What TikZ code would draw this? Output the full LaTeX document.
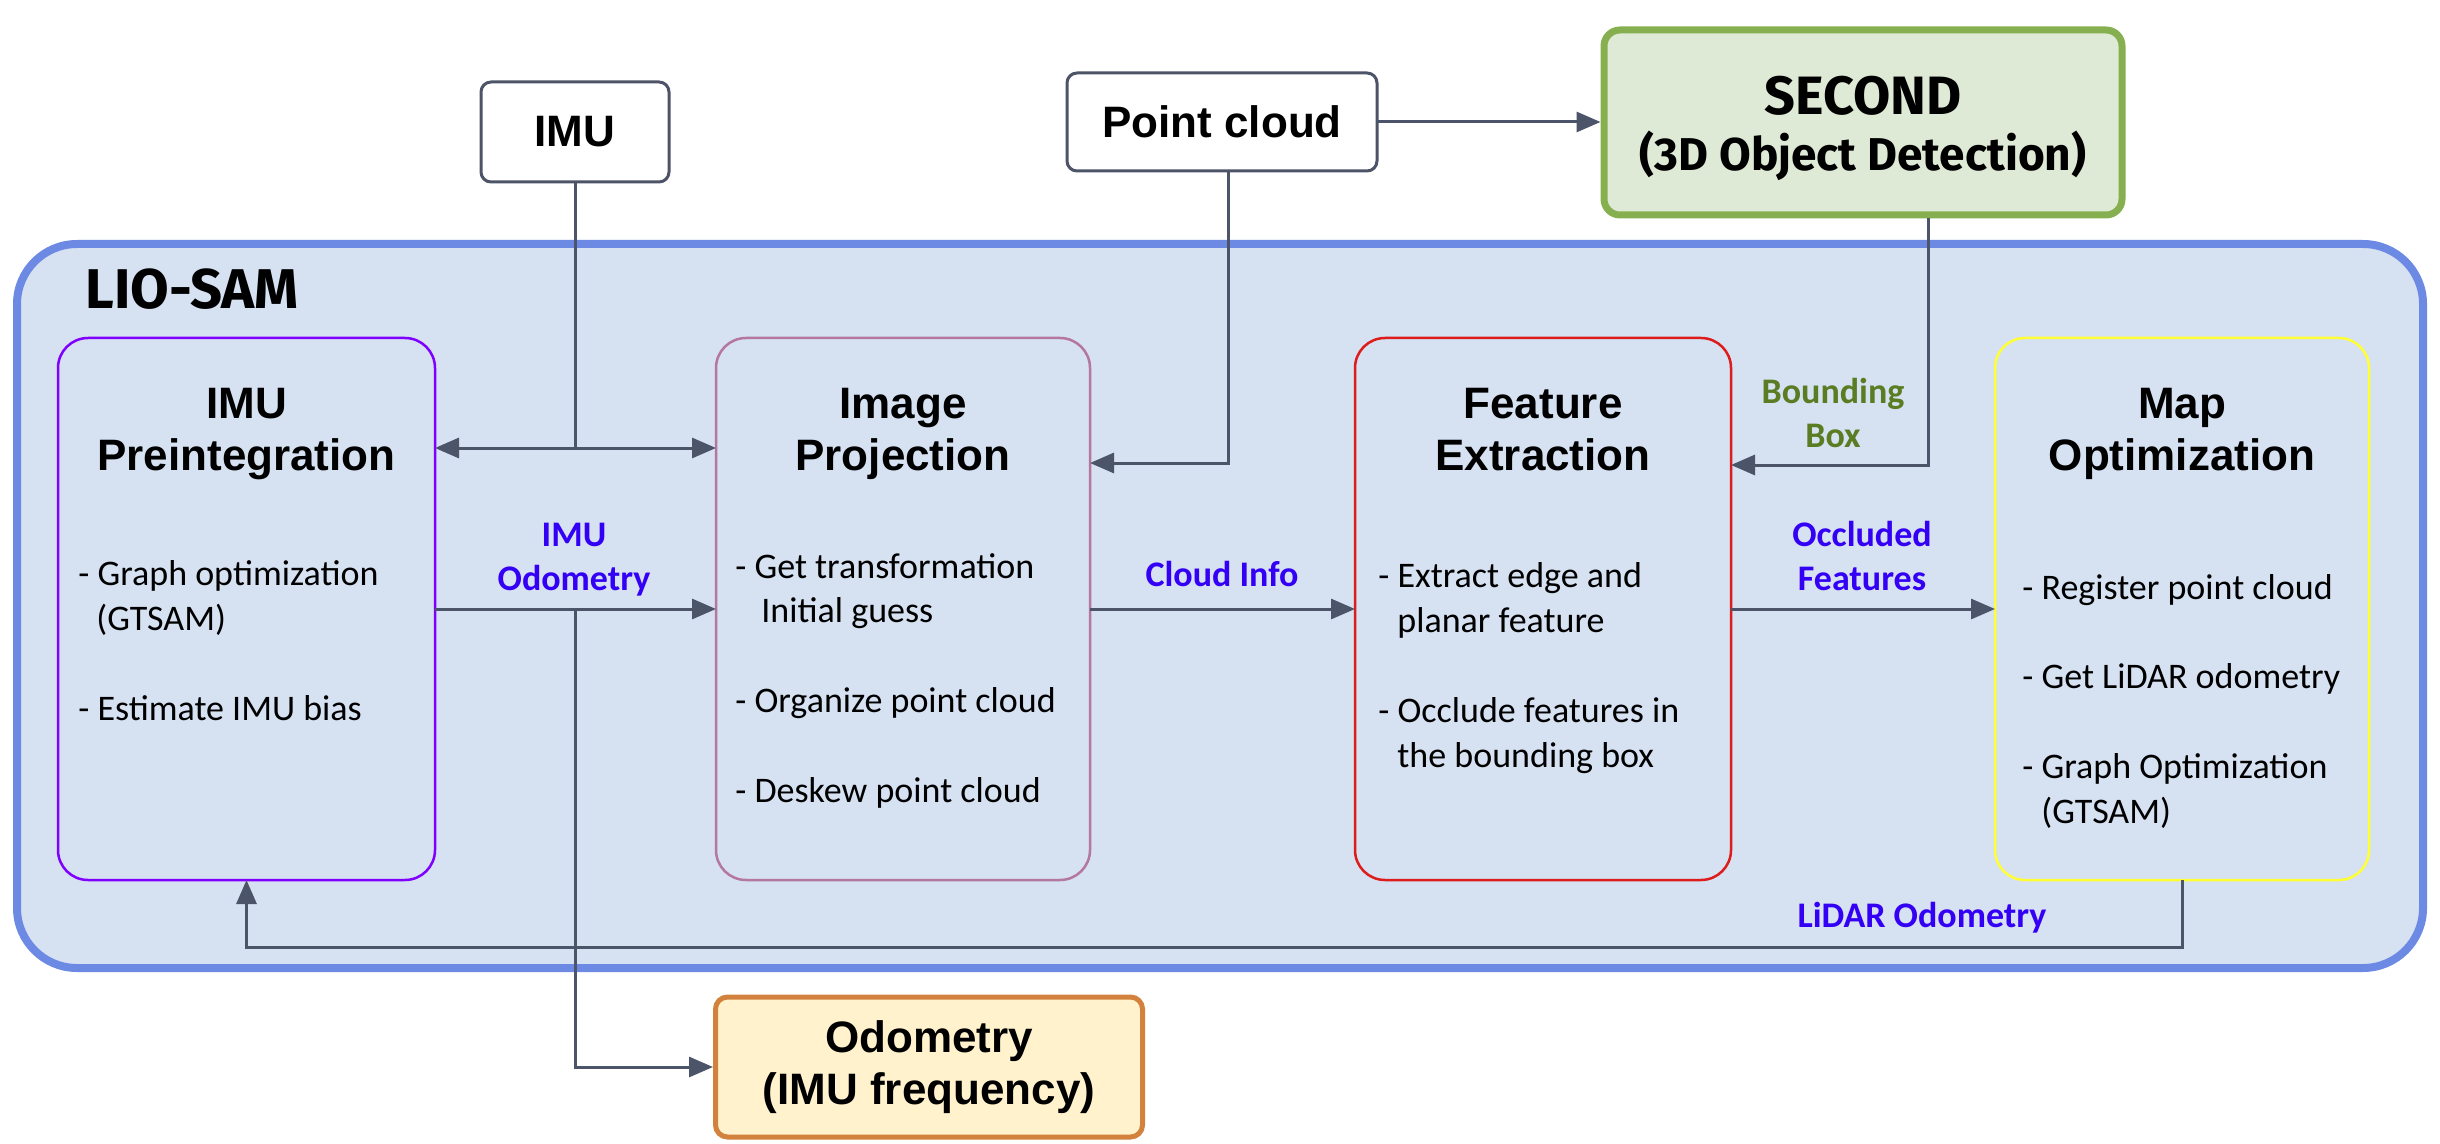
\documentclass[tikz,border=0pt]{standalone}
\usepackage{fontspec}
\setmainfont{Carlito}
\newfontfamily\arialf{Liberation Sans}
\newfontfamily\plexf{Fira Sans}
\usetikzlibrary{arrows.meta}
\definecolor{arr}{HTML}{4B5468}
\definecolor{contfill}{HTML}{D6E1F2}
\definecolor{contdraw}{HTML}{6C8AE4}
\definecolor{predraw}{HTML}{8000FF}
\definecolor{projdraw}{HTML}{B4789F}
\definecolor{fedraw}{HTML}{DD1C1C}
\definecolor{mapdraw}{HTML}{FFFF33}
\definecolor{secfill}{HTML}{DFEAD6}
\definecolor{secdraw}{HTML}{86B04F}
\definecolor{odfill}{HTML}{FFF2CC}
\definecolor{oddraw}{HTML}{D2823C}
\definecolor{srcdraw}{HTML}{4E5468}
\definecolor{lblue}{HTML}{3300F5}
\definecolor{lgreen}{HTML}{5A7D23}
\newcommand\ttlfont{\arialf\bfseries\fontsize{22}{26}\selectfont}
\newcommand\bdyfont{\fontsize{18}{22.4}\selectfont}
\newcommand\lblfont{\bfseries\fontsize{18}{22}\selectfont}
\begin{document}
\begin{tikzpicture}[x=0.5pt,y=-0.5pt,
  modbox/.style={draw, rounded corners=15pt, line width=1.25pt, minimum height=271pt, inner sep=0pt, outer sep=0pt},
  srcbox/.style={draw=srcdraw, fill=white, rounded corners=5pt, line width=1.5pt, inner sep=0pt, outer sep=0pt, align=center, font=\ttlfont},
  ttl/.style={anchor=base, align=center, font=\ttlfont, inner sep=0pt},
  bdy/.style={anchor=base west, align=left, font=\bdyfont, inner sep=0pt},
  lbl/.style={anchor=base, align=center, font=\lblfont, text=lblue, inner sep=0pt},
  conn/.style={draw=arr, line width=1.5pt, -{Triangle[length=12pt,width=10pt]}},
  dconn/.style={draw=arr, line width=1.5pt, {Triangle[length=12pt,width=10pt]}-{Triangle[length=12pt,width=10pt]}},
  plain/.style={draw=arr, line width=1.5pt}
]
\useasboundingbox (0,0) rectangle (2440,1144);
\fill[white] (0,0) rectangle (2440,1144);

% container
\node[draw=contdraw, fill=contfill, line width=4pt, rounded corners=30pt, minimum width=1203pt, minimum height=362pt, inner sep=0pt] (cont) at (1220,606) {};
\node[anchor=base west, inner sep=0pt, font=\plexf\bfseries\fontsize{28}{32}\selectfont] (liosam) at (85,309) {LIO-SAM};

% source boxes
\node[srcbox, minimum width=94pt, minimum height=50pt] (imu) at (575,132) {IMU};
\node[srcbox, minimum width=155pt, minimum height=49pt] (pc) at (1222,122) {Point cloud};
\node[draw=secdraw, fill=secfill, line width=3.5pt, rounded corners=8pt, minimum width=259pt, minimum height=92.5pt, inner sep=0pt] (sec) at (1863,122.5) {};
\node[anchor=base, align=center, inner sep=0pt, font=\plexf\bfseries\fontsize{27}{28}\selectfont] (secT) at (1863,171)
  {SECOND\\{\fontsize{23}{26}\selectfont (3D Object Detection)}};
\node[draw=oddraw, fill=odfill, line width=2.5pt, rounded corners=6pt, minimum width=213.5pt, minimum height=70pt, inner sep=0pt, align=center, font=\ttlfont] (odom) at (929,1067) {Odometry\\(IMU frequency)};

% module boxes
\node[modbox, draw=predraw, minimum width=188.5pt] (pre) at (246.5,609) {};
\node[modbox, draw=projdraw, minimum width=187pt] (proj) at (903,609) {};
\node[modbox, draw=fedraw, minimum width=188pt] (fe) at (1543,609) {};
\node[modbox, draw=mapdraw, minimum width=187pt] (map) at (2182,609) {};

% titles (base = last line)
\node[ttl] (preT) at (246.5,470) {IMU\\Preintegration};
\node[ttl] (projT) at (903,470) {Image\\Projection};
\node[ttl] (feT) at (1543,470) {Feature\\Extraction};
\node[ttl] (mapT) at (2182,470) {Map\\Optimization};

% bodies (base = last line)
\node[bdy] (preB) at (78,720) {- Graph optimization\\\hspace*{9pt}(GTSAM)\\[22.4pt]- Estimate IMU bias};
\node[bdy] (projB) at (735,802) {- Get transformation\\\hspace*{13pt}Initial guess\\[22.4pt]- Organize point cloud\\[22.4pt]- Deskew point cloud};
\node[bdy] (feB) at (1378,767) {- Extract edge and\\\hspace*{9.5pt}planar feature\\[22.4pt]- Occlude features in\\\hspace*{9.5pt}the bounding box};
\node[bdy] (mapB) at (2022,823) {- Register point cloud\\[22.4pt]- Get LiDAR odometry\\[22.4pt]- Graph Optimization\\\hspace*{9.5pt}(GTSAM)};

% coordinates
\coordinate (j1) at (575,448);
\coordinate (j2) at (575,609);
\coordinate (pcx) at (1228,463);
\coordinate (sbx) at (1928,465);
\coordinate (lb) at (1200,947);

% connectors
\draw[dconn] (pre.east |- j1) -- (proj.west |- j1);
\draw[plain] (imu.south) -- (j1);
\draw[conn] (pre.east) -- (proj.west);
\draw[conn] (j2) |- (odom.west);
\draw[conn] (pc.south -| pcx) |- (proj.east |- pcx);
\draw[conn] (pc.east) -- (sec.west |- pc.east);
\draw[conn] (sec.south -| sbx) |- (fe.east |- sbx);
\draw[conn] (proj.east) -- (fe.west);
\draw[conn] (fe.east) -- (map.west);
\draw[conn] (map.south) |- (lb) -| (pre.south);

% labels (base = last line)
\node[lbl] (l1) at (574,590) {IMU\\Odometry};
\node[lbl] (l2) at (1222,586) {Cloud Info};
\node[lbl, text=lgreen] (l3) at (1833,447) {Bounding\\Box};
\node[lbl] (l4) at (1862,590) {Occluded\\Features};
\node[lbl] (l5) at (1922,927) {LiDAR Odometry};
\end{tikzpicture}
\end{document}
